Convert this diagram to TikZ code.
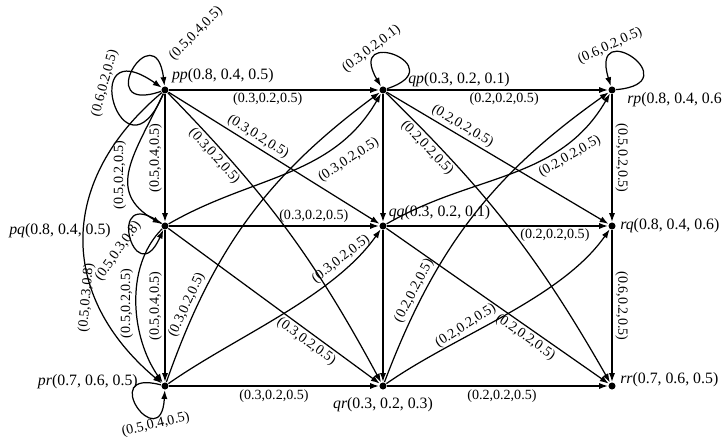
\documentclass[tikz,border=0pt]{standalone}
\usepackage{fontspec}
\setmainfont{Liberation Serif}
\usetikzlibrary{arrows.meta}

\begin{document}
\begin{tikzpicture}[>={Latex[length=5pt,width=3.5pt]}, line width=0.7pt,
	vtx/.style={circle, fill, inner sep=0pt, minimum size=4pt},
	wt/.style={font=\footnotesize, inner sep=1.5pt},
	every label/.style={font=\small, inner sep=2pt}]
	\useasboundingbox (0,0) rectangle (14.44,8.9);
	% states
	\node[vtx, label={[anchor=south west]45:\textit{pp}(0.8, 0.4, 0.5)}] (pp) at (3.3,7.1) {};
	\node[vtx, label={[anchor=west, xshift=0.34cm, yshift=0.2cm]0:\textit{qp}(0.3, 0.2, 0.1)}] (qp) at (7.66,7.1) {};
	\node[vtx, label={[anchor=west, xshift=0.14cm, yshift=-0.2cm]0:\textit{rp}(0.8, 0.4, 0.6)}] (rp) at (12.24,7.1) {};
	\node[vtx, label={[anchor=east, xshift=-0.92cm, yshift=-0.1cm]180:\textit{pq}(0.8, 0.4, 0.5)}] (pq) at (3.3,4.38) {};
	\node[vtx, label={[anchor=west, xshift=-0.05cm, yshift=0.26cm]0:\textit{qq}(0.3, 0.2, 0.1)}] (qq) at (7.66,4.38) {};
	\node[vtx, label={[anchor=west]0:\textit{rq}(0.8, 0.4, 0.6)}] (rq) at (12.24,4.38) {};
	\node[vtx, label={[anchor=east, xshift=-0.38cm, yshift=0.08cm]180:\textit{pr}(0.7, 0.6, 0.5)}] (pr) at (3.3,1.18) {};
	\node[vtx, label={[anchor=north, yshift=-0.06cm]-90:\textit{qr}(0.3, 0.2, 0.3)}] (qr) at (7.66,1.18) {};
	\node[vtx, label={[anchor=west, yshift=0.12cm]0:\textit{rr}(0.7, 0.6, 0.5)}] (rr) at (12.24,1.18) {};

	% rows
	\draw[->] (pp) -- node[wt, below, pos=0.47] {(0.3,0.2,0.5)} (qp);
	\draw[->] (qp) -- node[wt, below, pos=0.53] {(0.2,0.2,0.5)} (rp);
	\draw[->] (pq) -- node[wt, above, pos=0.69] {(0.3,0.2,0.5)} (qq);
	\draw[->] (qq) -- node[wt, below, pos=0.76] {(0.2,0.2,0.5)} (rq);
	\draw[->] (pr) -- node[wt, below, pos=0.5] {(0.3,0.2,0.5)} (qr);
	\draw[->] (qr) -- node[wt, below, pos=0.52] {(0.2,0.2,0.5)} (rr);

	% columns
	\draw[<-] (pq) -- node[wt, sloped, above] {(0.5,0.4,0.5)} (pp);
	\draw[<-] (pr) -- node[wt, sloped, above] {(0.5,0.4,0.5)} (pq);
	\draw[->] (qp) -- (qq);
	\draw[->] (qq) -- (qr);
	\draw[->] (rp) -- node[wt, sloped, above] {(0.5,0.2,0.5)} (rq);
	\draw[->] (rq) -- node[wt, sloped, above] {(0.6,0.2,0.5)} (rr);

	% left arcs
	\draw[->] (pp) to[out=245, in=150, looseness=1.3] node[wt, pos=0.55, rotate=90, anchor=south] {(0.5,0.2,0.5)} (pq);
	\draw[->] (pq) to[out=225, in=125, looseness=0.9] node[wt, pos=0.5, rotate=90, anchor=south] {(0.5,0.2,0.5)} (pr);
	\draw[->] (pp) to[out=220, in=140, looseness=1.2] node[wt, pos=0.7, rotate=85, anchor=south] {(0.5,0.3,0.8)} (pr);

	% p -> q
	\draw[->] (pp) -- node[wt, sloped, above, pos=0.4] {(0.3,0.2,0.5)} (qq);
	\draw[->] (pp) to[bend left=8] node[wt, sloped, below, pos=0.2] {(0.3,0.2,0.5)} (qr);
	\draw[->] (pq) to[out=30, in=240] node[wt, pos=0.72, xshift=0.2cm, yshift=-0.1cm, rotate=33, anchor=north] {(0.3,0.2,0.5)} (qp);
	\draw[->] (pq) -- node[wt, sloped, below, pos=0.68] {(0.3,0.2,0.5)} (qr);
	\draw[->] (pr) to[bend left=17] node[wt, sloped, above, pos=0.2] {(0.3,0.2,0.5)} (qp);
	\draw[->] (pr) to[out=35, in=235, looseness=0.8] node[wt, pos=0.8, rotate=38, anchor=south] {(0.3,0.2,0.5)} (qq);

	% q -> r
	\draw[->] (qp) -- node[wt, sloped, above, pos=0.32] {(0.2,0.2,0.5)} (rq);
	\draw[->] (qp) to[bend left=8] node[wt, sloped, below, pos=0.17] {(0.2,0.2,0.5)} (rr);
	\draw[->] (qq) to[out=30, in=240] node[wt, pos=0.72, xshift=0.1cm, rotate=30, anchor=north] {(0.2,0.2,0.5)} (rp);
	\draw[->] (qq) -- node[wt, sloped, below, pos=0.65] {(0.2,0.2,0.5)} (rr);
	\draw[->] (qr) to[bend left=17] node[wt, sloped, above, pos=0.24] {(0.2,0.2,0.5)} (rp);
	\draw[->] (qr) to[out=35, in=235, looseness=0.8] node[wt, pos=0.36, rotate=33, anchor=south] {(0.2,0.2,0.5)} (rq);

	% loops
	\draw[->] (pp) to[out=247, in=145, distance=2.1cm] node[wt, sloped, above, pos=0.65] {(0.6,0.2,0.5)} (pp);
	\draw[->] (pp) to[out=199, in=97, distance=1.5cm] node[wt, pos=0.85, xshift=0.24cm, yshift=0.06cm, rotate=45, anchor=west] {(0.5,0.4,0.5)} (pp);
	\draw[->] (qp) to[out=18, in=120, distance=1.43cm] node[wt, sloped, above, pos=0.73] {(0.3,0.2,0.1)} (qp);
	\draw[->] (rp) to[out=5, in=107, distance=1.5cm] node[wt, sloped, above, pos=0.73] {(0.6,0.2,0.5)} (rp);
	\draw[->] (pq) to[out=144, in=246, distance=1.43cm] node[wt, pos=0.5, xshift=0.2cm, yshift=0.3cm, rotate=55, anchor=east] {(0.5,0.3,0.8)} (pq);
	\draw[->] (pr) to[out=165, in=267, distance=1.35cm] node[wt, sloped, below, pos=0.75] {(0.5,0.4,0.5)} (pr);
\end{tikzpicture}
\end{document}
